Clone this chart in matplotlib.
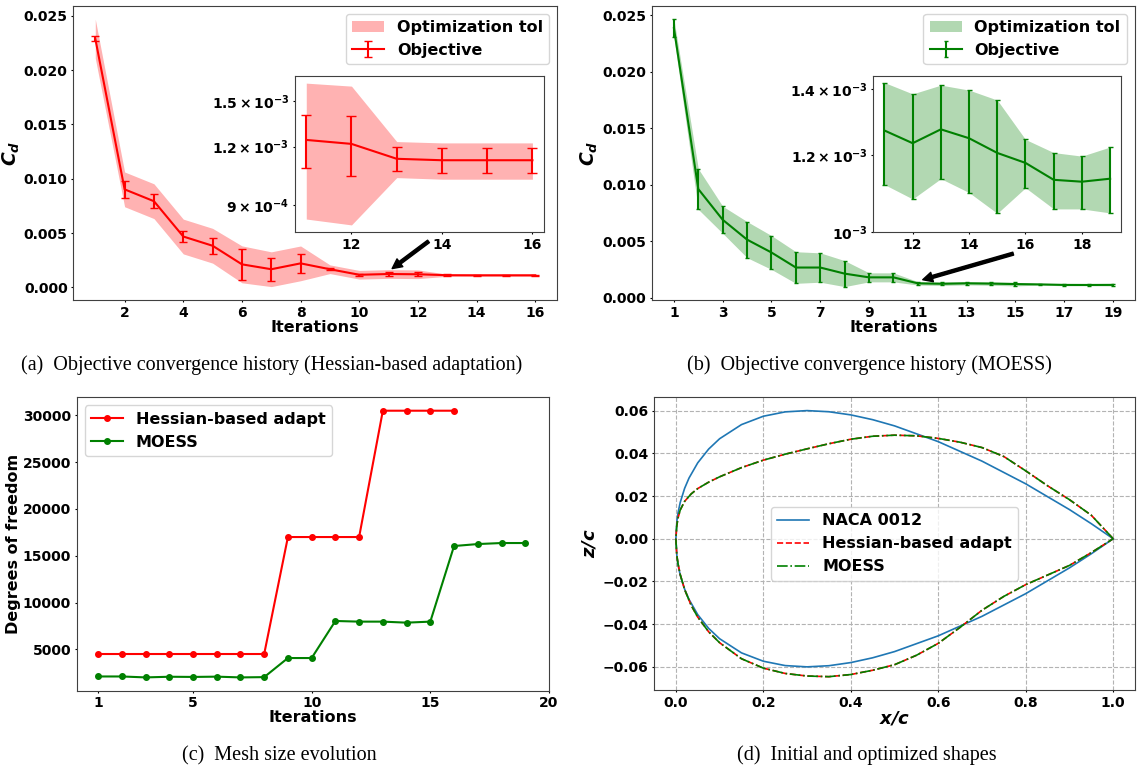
import matplotlib.pyplot as plt
import numpy as np
from matplotlib.ticker import NullFormatter, NullLocator


# (a) Hessian-based adaptation: drag coefficient per optimization iteration
HESS_ITERS = list(range(1, 17))
HESS_CD = [0.0229, 0.00903, 0.00794, 0.00469, 0.00384, 0.00213, 0.00168, 0.00222,
           0.00168, 0.00117, 0.00124, 0.001216, 0.00113, 0.001122, 0.001122, 0.001122]
HESS_ERR = [0.00025, 0.00075, 0.00066, 0.00053, 0.00075, 0.0014, 0.00107, 0.0009,
            0.0001, 0.0001, 0.00016, 0.00018, 0.000068, 0.000067, 0.000067, 0.000067]
HESS_TOL = [0.0018, 0.0016, 0.0016, 0.0016, 0.0016, 0.0017, 0.0016, 0.0016,
            0.0004, 0.0004, 0.0004, 0.0004, 0.0001, 0.0001, 0.0001, 0.0001]

# (b) MOESS
MOESS_ITERS = list(range(1, 20))
MOESS_CD = [0.02387, 0.00962, 0.0069, 0.00514, 0.0040, 0.00267, 0.00267, 0.00213,
            0.0018, 0.0018, 0.0012705, 0.001233, 0.001274, 0.0012475, 0.001205,
            0.001177, 0.001131, 0.001126, 0.001134]
MOESS_ERR = [0.0008, 0.0018, 0.0012, 0.0016, 0.0015, 0.0014, 0.0013, 0.00115,
             0.0004, 0.0004, 0.000152, 0.000152, 0.00014, 0.00015, 0.00016,
             0.000067, 0.000075, 0.00007, 0.000088]

# (c) mesh size (degrees of freedom)
HESS_DOF = [4500, 4500, 4500, 4500, 4500, 4500, 4500, 4500,
            17000, 17000, 17000, 17000, 30500, 30500, 30500, 30500]
MOESS_DOF = [2100, 2100, 2000, 2070, 2050, 2080, 2000, 2030, 4070, 4070,
             8030, 7960, 7960, 7850, 7960, 16040, 16250, 16360, 16360]

# (d) airfoil shapes
NACA_X = [0, 0.0025, 0.005, 0.01, 0.02, 0.03, 0.05, 0.075, 0.1, 0.15, 0.2, 0.25,
          0.3, 0.35, 0.4, 0.45, 0.5, 0.6, 0.7, 0.8, 0.9, 0.95, 1.0]
NACA_HALF_THICKNESS = [0, 0.00872, 0.01221, 0.01704, 0.0236, 0.0284, 0.03555, 0.042,
                       0.04683, 0.05345, 0.05737, 0.05941, 0.06001, 0.05947, 0.058,
                       0.05576, 0.05286, 0.04547, 0.03634, 0.02572, 0.01365, 0.00704, 0.0]
OPT_X = [0, 0.002, 0.005, 0.01, 0.02, 0.035, 0.05, 0.075, 0.1, 0.15, 0.2, 0.25, 0.3,
         0.35, 0.4, 0.45, 0.5, 0.55, 0.6, 0.65, 0.7, 0.75, 0.8, 0.85, 0.9, 0.95, 1.0]
HESS_UPPER = [0, 0.006, 0.0098, 0.0135, 0.0175, 0.021, 0.0235, 0.0265, 0.029, 0.0333,
              0.0368, 0.0396, 0.0421, 0.0445, 0.0466, 0.048, 0.0485, 0.0482, 0.047,
              0.0452, 0.0427, 0.0385, 0.0318, 0.0248, 0.0183, 0.011, 0.0]
HESS_LOWER = [0, -0.0075, -0.0118, -0.0168, -0.0238, -0.0312, -0.0367, -0.0436, -0.0487,
              -0.0562, -0.0606, -0.0631, -0.0643, -0.0646, -0.0636, -0.0616, -0.059,
              -0.0546, -0.049, -0.0415, -0.0335, -0.027, -0.0215, -0.017, -0.0125,
              -0.0065, 0.0]
MOESS_UPPER = [0, 0.006, 0.0098, 0.0135, 0.0175, 0.021, 0.0235, 0.0265, 0.029, 0.0333,
               0.0368, 0.0396, 0.0421, 0.0445, 0.0466, 0.048, 0.0485, 0.0482, 0.047,
               0.0452, 0.0427, 0.0385, 0.0318, 0.0248, 0.0183, 0.011, 0.0]
MOESS_LOWER = [0, -0.0075, -0.0118, -0.0168, -0.0238, -0.0312, -0.0367, -0.0436, -0.0487,
               -0.0562, -0.0606, -0.0631, -0.0643, -0.0646, -0.0636, -0.0616, -0.059,
               -0.0546, -0.049, -0.0415, -0.0335, -0.027, -0.0215, -0.017, -0.0125,
               -0.0065, 0.0]

CAPTIONS = [
    "(a)  Objective convergence history (Hessian-based adaptation)",
    "(b)  Objective convergence history (MOESS)",
    "(c)  Mesh size evolution",
    "(d)  Initial and optimized shapes",
]


def setup_matplotlib() -> None:
    plt.rcParams.update(
        {
            "font.family": "DejaVu Sans",
            "font.weight": "bold",
            "axes.labelweight": "bold",
            "axes.edgecolor": "0.25",
            "axes.labelsize": 11.5,
            "xtick.labelsize": 10,
            "ytick.labelsize": 10,
            "xtick.major.size": 1.5,
            "ytick.major.size": 1.5,
            "xtick.major.pad": 2.5,
            "ytick.major.pad": 2.5,
            "legend.fontsize": 11.5,
            "mathtext.fontset": "dejavusans",
        }
    )


def draw_objective(ax, iters, cd, err, tol, color, capsize, inset_capsize,
                   xticks, inset_xticks, arrow_head, arrow_tail):
    iters = np.asarray(iters)
    cd = np.asarray(cd)
    err = np.asarray(err)
    tol = np.asarray(tol)

    band = ax.fill_between(iters, cd - tol, cd + tol, color=color, alpha=0.3,
                           linewidth=0, label="Optimization tol")
    eb = ax.errorbar(iters, cd, yerr=err, color=color, linewidth=1.5,
                     capsize=capsize, label="Objective")
    ax.set_xticks(xticks)
    ax.set_xlabel("Iterations", labelpad=0)
    ax.set_ylabel(r"$\mathbfit{C_d}$", fontsize=13.5, labelpad=1.5)
    ax.legend(handles=[band, eb], loc="upper right")
    ax.annotate("", xy=arrow_head, xytext=arrow_tail,
                arrowprops=dict(facecolor="black", edgecolor="black", width=2.2,
                                headwidth=7, headlength=7, shrink=0.0))

    # zoomed view of the last iterations on a log scale
    sel = iters >= 11
    ins = ax.inset_axes([0.458, 0.231, 0.514, 0.530])
    ins.fill_between(iters[sel], cd[sel] - tol[sel], cd[sel] + tol[sel],
                     color=color, alpha=0.3, linewidth=0)
    ins.errorbar(iters[sel], cd[sel], yerr=err[sel], color=color, linewidth=1.5,
                 capsize=inset_capsize)
    ins.set_yscale("log")
    ins.set_xticks(inset_xticks)
    return ins


def set_log_ticks(ax, values, labels):
    ax.yaxis.set_minor_locator(NullLocator())
    ax.yaxis.set_minor_formatter(NullFormatter())
    ax.set_yticks(values)
    ax.set_yticklabels(labels)


def main() -> int:
    setup_matplotlib()
    fig = plt.figure(figsize=(11.38, 7.71), dpi=100)
    ax_a = fig.add_axes([0.0644, 0.6109, 0.4253, 0.3817])
    ax_b = fig.add_axes([0.5729, 0.6109, 0.4244, 0.3817])
    ax_c = fig.add_axes([0.0674, 0.1041, 0.4150, 0.3805])
    ax_d = fig.add_axes([0.5747, 0.1051, 0.4227, 0.3796])

    ins_a = draw_objective(ax_a, HESS_ITERS, HESS_CD, HESS_ERR, HESS_TOL, "red", 3, 3.5,
                           range(2, 17, 2), [12, 14, 16], (11.12, 0.00174), (12.36, 0.00424))
    set_log_ticks(ins_a, [9e-4, 1.2e-3, 1.5e-3],
                  [r"$\mathbf{9\times10^{-4}}$", r"$\mathbf{1.2\times10^{-3}}$",
                   r"$\mathbf{1.5\times10^{-3}}$"])

    ins_b = draw_objective(ax_b, MOESS_ITERS, MOESS_CD, MOESS_ERR, MOESS_ERR, "green", 1.3, 1.8,
                           range(1, 20, 2), [12, 14, 16, 18], (11.2, 0.00159), (14.91, 0.0039))
    ins_b.set_ylim(1e-3, ins_b.get_ylim()[1])
    set_log_ticks(ins_b, [1e-3, 1.2e-3, 1.4e-3],
                  [r"$\mathbf{10^{-3}}$", r"$\mathbf{1.2\times10^{-3}}$",
                   r"$\mathbf{1.4\times10^{-3}}$"])

    # (c) mesh size
    ax_c.plot(range(1, len(HESS_DOF) + 1), HESS_DOF, "-o", color="red", linewidth=1.5,
              markersize=4, label="Hessian-based adapt")
    ax_c.plot(range(1, len(MOESS_DOF) + 1), MOESS_DOF, "-o", color="green", linewidth=1.5,
              markersize=4, label="MOESS")
    ax_c.set_xlim(0.1, 20)
    ax_c.set_xticks([1, 5, 10, 15, 20])
    ax_c.set_xlabel("Iterations", labelpad=0)
    ax_c.set_ylabel("Degrees of freedom", labelpad=1.5)
    ax_c.legend(loc="upper left")

    # (d) shapes, drawn trailing edge -> upper surface -> leading edge -> lower surface
    naca_x = NACA_X[::-1] + NACA_X[1:]
    naca_z = NACA_HALF_THICKNESS[::-1] + [-t for t in NACA_HALF_THICKNESS[1:]]
    opt_x = OPT_X[::-1] + OPT_X[1:]
    ax_d.plot(naca_x, naca_z, color="C0", linewidth=1.2, label="NACA 0012")
    ax_d.plot(opt_x, HESS_UPPER[::-1] + HESS_LOWER[1:], "--", color="red", linewidth=1.2,
              label="Hessian-based adapt")
    ax_d.plot(opt_x, MOESS_UPPER[::-1] + MOESS_LOWER[1:], "-.", color="green", linewidth=1.2,
              label="MOESS")
    ax_d.grid(True, linestyle="--", color="0.7", linewidth=0.8)
    ax_d.set_xlabel(r"$\mathbfit{x/c}$", fontsize=13, labelpad=0)
    ax_d.set_ylabel(r"$\mathbfit{z/c}$", fontsize=13, labelpad=3)
    ax_d.legend(loc="center")

    caption_kw = dict(family="Liberation Serif", fontsize=14.5, fontweight="normal", va="baseline")
    fig.text(20.7 / 1138, 1 - 370 / 771, CAPTIONS[0], ha="left", **caption_kw)
    fig.text(1052 / 1138, 1 - 370 / 771, CAPTIONS[1], ha="right", **caption_kw)
    fig.text(181.7 / 1138, 1 - 760 / 771, CAPTIONS[2], ha="left", **caption_kw)
    fig.text(997 / 1138, 1 - 760 / 771, CAPTIONS[3], ha="right", **caption_kw)

    fig.savefig("out.png", dpi=100)
    plt.close(fig)
    return 0


if __name__ == "__main__":
    raise SystemExit(main())
